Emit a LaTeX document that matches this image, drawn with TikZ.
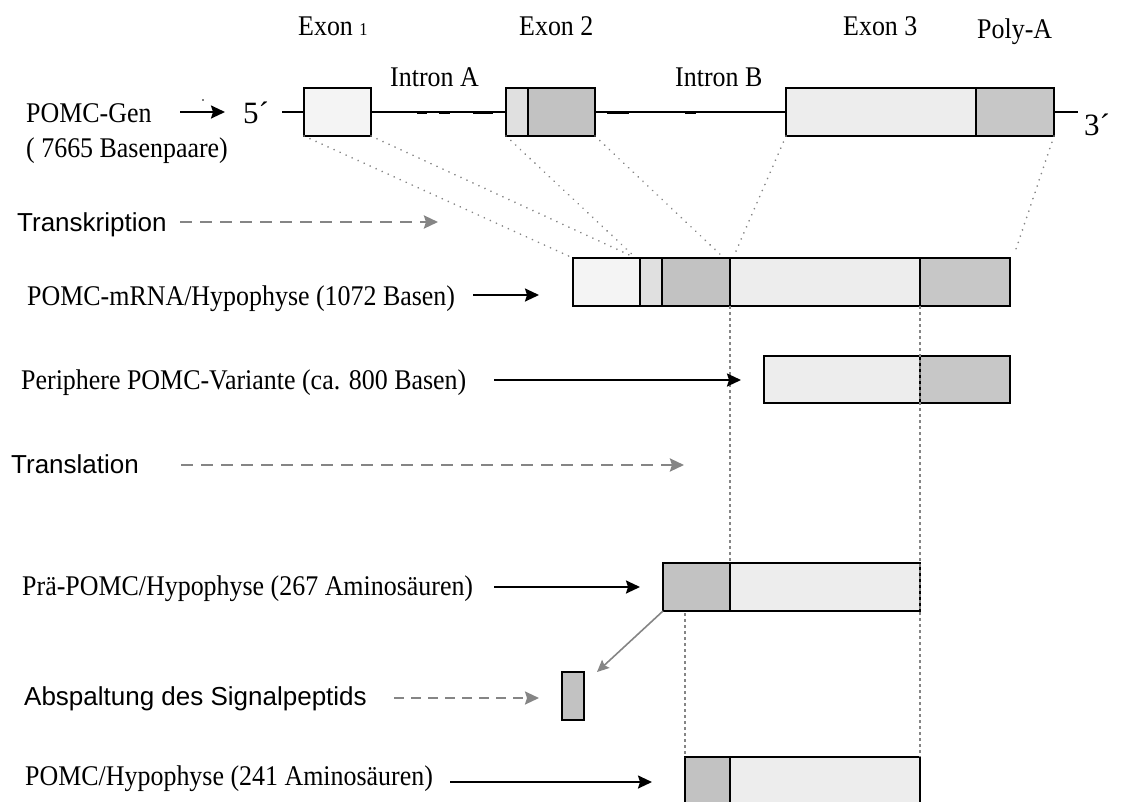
\documentclass[tikz,border=0pt]{standalone}
\usepackage{graphicx}
\usepackage{fontspec}
\setmainfont{Liberation Serif}
\setsansfont{Liberation Sans}
\usetikzlibrary{arrows.meta}
\definecolor{cA}{gray}{0.955}
\definecolor{cB}{gray}{0.88}
\definecolor{cC}{gray}{0.76}
\definecolor{cD}{gray}{0.93}
\definecolor{cE}{gray}{0.78}
\definecolor{lgray}{gray}{0.52}
\newcommand{\sqz}[1]{\scalebox{0.91}[1]{#1}}
\begin{document}
\begin{tikzpicture}[x=1pt,y=-1pt,
 lbl/.style={anchor=base west, inner sep=0pt, font=\fontsize{28.5}{32}\selectfont},
 slbl/.style={anchor=base west, inner sep=0pt, font=\sffamily\fontsize{26}{30}\selectfont},
 big/.style={anchor=base west, inner sep=0pt, font=\fontsize{31}{34}\selectfont},
 seg/.style={draw=black, line width=2pt, inner sep=0pt, outer sep=0pt, anchor=north west, minimum height=48pt},
 arr/.style={line width=2pt, -{Stealth[length=14pt,width=13pt,inset=2pt]}},
 garr/.style={draw=lgray, line width=2.6pt, dash pattern=on 12pt off 8pt, -{Stealth[length=14pt,width=13pt,inset=2pt,fill=lgray]}},
 dotl/.style={draw=lgray, line width=1.8pt, line cap=round, dash pattern=on 0.1pt off 6.5pt},
 vdot/.style={draw=lgray, line width=1.6pt, dash pattern=on 3pt off 3pt},
]
\useasboundingbox (0,0) rectangle (1124,801);
\clip (0,0) rectangle (1124,801);

% gene line
\coordinate (g5) at (282,112);
\coordinate (g3) at (1078,112);
\draw[line width=1.5pt] (g5) -- (g3);
\foreach \a/\b in {417/427,439/450,473/493,607/629,685/696}
  \draw[line width=3pt] (\a,112) -- (\b,112);

% gene exon boxes
\node[seg, fill=cA, minimum width=67pt] (e1) at (304,88) {};
\node[seg, fill=cB, minimum width=22pt] (e2a) at (506,88) {};
\node[seg, fill=cC, minimum width=67pt] (e2b) at (528,88) {};
\node[seg, fill=cD, minimum width=190pt] (e3) at (786,88) {};
\node[seg, fill=cE, minimum width=78pt] (ep) at (976,88) {};

% mRNA
\node[seg, fill=cA, minimum width=67pt] (m1) at (573,258) {};
\node[seg, fill=cB, minimum width=22pt] (m2a) at (640,258) {};
\node[seg, fill=cC, minimum width=68pt] (m2b) at (662,258) {};
\node[seg, fill=cD, minimum width=190pt] (m3) at (730,258) {};
\node[seg, fill=cE, minimum width=90pt] (mp) at (920,258) {};

% peripheral variant
\node[seg, fill=cD, minimum width=156pt, minimum height=47pt] (p3) at (764,356) {};
\node[seg, fill=cE, minimum width=90pt, minimum height=47pt] (pp) at (920,356) {};

% pre-POMC
\node[seg, fill=cC, minimum width=67pt] (r2b) at (663,563) {};
\node[seg, fill=cD, minimum width=190pt] (r3) at (730,563) {};

% signal peptide
\node[seg, fill=cC, minimum width=22pt] (sig) at (562,672) {};

% POMC
\node[seg, fill=cC, minimum width=45pt] (q2b) at (685,757) {};
\node[seg, fill=cD, minimum width=190pt] (q3) at (730,757) {};

% dotted splicing lines
\draw[dotl, shorten >=3pt] (e1.south west) -- (m1.north west);
\draw[dotl, shorten >=4pt] (e1.south east) -- ([xshift=-4pt]m1.north east);
\draw[dotl, shorten >=4pt] (e2a.south west) -- ([xshift=-4pt]m2a.north west);
\draw[dotl, shorten >=4pt] (e2b.south east) -- ([xshift=-6pt]m2b.north east);
\draw[dotl, shorten >=4pt] (e3.south west) -- ([xshift=3pt]m3.north west);
\draw[dotl, shorten >=4pt] (ep.south east) -- ([xshift=3pt]mp.north east);

% vertical guides
\draw[vdot] (m2b.south east) -- (r2b.north east);
\draw[vdot] (m3.south east) -- (q3.north east);
\coordinate (r685) at (685,613);
\draw[vdot] (r685) -- (q2b.north west);

% signal cleavage arrow
\coordinate (sigtip) at (597,672);
\draw[draw=lgray, line width=1.6pt, -{Stealth[length=12pt,width=11pt,inset=2pt,fill=lgray]}] (r2b.south west) -- (sigtip);

% labels
\node[lbl] (x1) at (298,35) {\sqz{Exon {\fontsize{18}{20}\selectfont 1}}};
\node[lbl] (x2) at (519,35) {\sqz{Exon 2}};
\node[lbl] (x3) at (843,35) {\sqz{Exon 3}};
\node[lbl] (xp) at (977,38) {\sqz{Poly-A}};
\node[lbl] (ia) at (390,86) {\sqz{Intron A}};
\node[lbl] (ib) at (675,86) {\sqz{Intron B}};
\node[lbl] (lgen) at (26,122) {\sqz{POMC-Gen}};
\node[lbl] (lbp) at (26,157) {\sqz{( 7665 Basenpaare)}};
\node[big] (l5) at (243,123) {5´};
\node[big] (l3) at (1084,135) {3´};
\fill (203,100) circle (0.8pt);
\node[slbl] (ltr) at (17,231) {Transkription};
\node[lbl] (lm) at (27,305) {\sqz{POMC-mRNA/Hypophyse (1072 Basen)}};
\node[lbl] (lper) at (21,389) {\sqz{Periphere POMC-Variante (ca. 800 Basen)}};
\node[slbl] (ltl) at (11,473) {Translation};
\node[lbl] (lpre) at (22,595) {\sqz{Prä-POMC/Hypophyse (267 Aminosäuren)}};
\node[slbl] (lab) at (24,705) {Abspaltung des Signalpeptids};
\node[lbl] (lpo) at (25,785) {\sqz{POMC/Hypophyse (241 Aminosäuren)}};

% black arrows
\coordinate (a1s) at (180,112); \coordinate (a1e) at (225,112);
\coordinate (a2s) at (473,295); \coordinate (a2e) at (539,295);
\coordinate (a3s) at (494,380); \coordinate (a3e) at (741,380);
\coordinate (a4s) at (494,587); \coordinate (a4e) at (640,587);
\coordinate (a5s) at (450,782); \coordinate (a5e) at (652,782);
\draw[arr] (a1s) -- (a1e);
\draw[arr] (a2s) -- (a2e);
\draw[arr] (a3s) -- (a3e);
\draw[arr] (a4s) -- (a4e);
\draw[arr] (a5s) -- (a5e);

% grey dashed arrows
\coordinate (t1s) at (180,222); \coordinate (t1e) at (438,222);
\coordinate (t2s) at (181,465); \coordinate (t2e) at (684,465);
\coordinate (t3s) at (394,698); \coordinate (t3e) at (539,698);
\draw[garr] (t1s) -- (t1e);
\draw[garr] (t2s) -- (t2e);
\draw[garr, line width=2.2pt, dash pattern=on 10pt off 7pt] (t3s) -- (t3e);
\end{tikzpicture}
\end{document}
